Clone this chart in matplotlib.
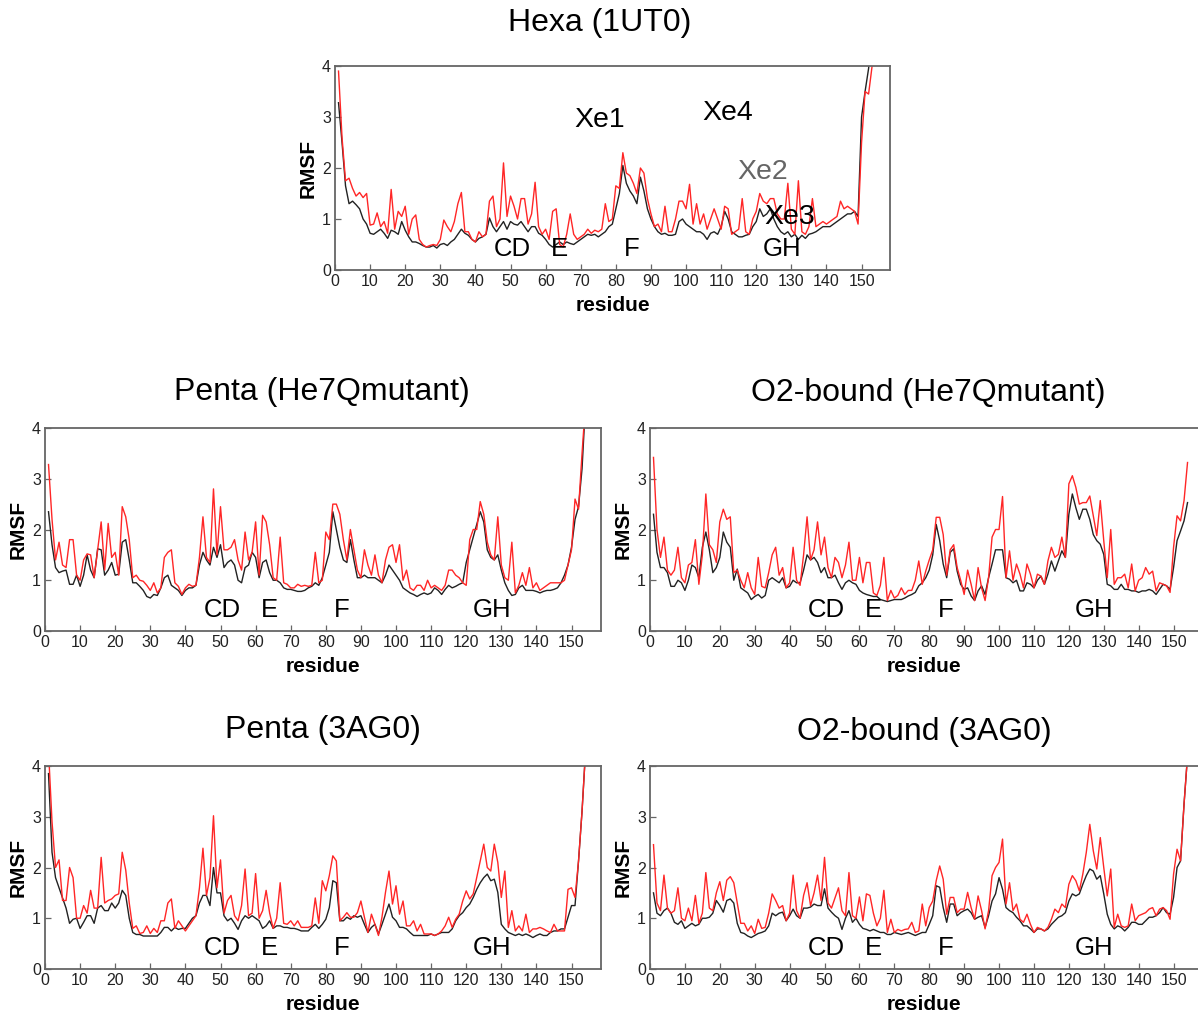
import numpy as np
import matplotlib.pyplot as plt

plt.rcParams['font.family'] = ['Liberation Sans', 'DejaVu Sans']

# RMSF per residue, red = grey-dark line pairs
hexa_red = [3.9, 2.6, 1.75, 1.8, 1.6, 1.45, 1.52, 1.42, 1.5, 0.88,
            0.9, 1.12, 0.85, 0.95, 0.72, 1.58, 0.8, 1.15, 1.05, 1.25,
            0.7, 1.0, 1.08, 0.6, 0.5, 0.45, 0.48, 0.5, 0.48, 0.6,
            0.98, 0.85, 0.75, 0.95, 1.3, 1.52, 0.75, 0.75, 0.6, 0.55,
            0.75, 0.65, 0.7, 1.35, 1.45, 0.85, 1.0, 2.1, 1.05, 1.45,
            1.25, 1.0, 1.4, 1.4, 0.9, 1.1, 1.72, 0.85, 0.7, 0.8,
            0.6, 1.15, 1.2, 0.5, 0.45, 0.7, 1.1, 0.7, 0.6, 0.65,
            0.7, 0.8, 0.72, 0.78, 0.75, 0.8, 1.3, 0.95, 1.0, 1.65,
            1.6, 2.3, 1.9, 1.85, 1.7, 1.5, 2.0, 1.9, 1.4, 1.1,
            0.85, 0.9, 0.75, 1.25, 0.75, 0.75, 1.0, 1.35, 1.35, 1.2,
            1.68, 0.9, 1.3, 0.9, 1.1, 0.8, 1.0, 1.2, 1.0, 0.8,
            1.25, 1.2, 0.7, 0.75, 0.8, 1.4, 0.75, 0.7, 1.0, 1.15,
            1.5, 1.35, 1.3, 1.4, 1.4, 1.1, 1.0, 1.0, 1.7, 0.8,
            0.7, 1.75, 0.75, 0.7, 0.85, 1.4, 0.85, 0.9, 0.95, 0.9,
            0.95, 1.0, 1.05, 1.35, 1.2, 1.25, 1.2, 1.15, 0.9, 2.5,
            3.5, 3.45, 4.0, 4.8]
hexa_blk = [3.28, 2.5, 1.65, 1.3, 1.35, 1.28, 1.2, 1.0, 0.9, 0.72,
            0.7, 0.75, 0.8, 0.72, 0.62, 0.78, 0.75, 0.7, 0.95, 0.78,
            0.65, 0.55, 0.55, 0.52, 0.48, 0.45, 0.45, 0.48, 0.43, 0.5,
            0.52, 0.48, 0.55, 0.6, 0.7, 0.8, 0.72, 0.68, 0.6, 0.55,
            0.62, 0.65, 0.7, 1.02, 0.85, 0.75, 0.85, 0.95, 0.8, 0.95,
            0.9, 0.88, 0.95, 0.85, 0.75, 0.85, 0.85, 0.72, 0.68, 0.6,
            0.5, 0.45, 0.5, 0.55, 0.5, 0.55, 0.52, 0.5, 0.55, 0.6,
            0.65, 0.7, 0.68, 0.7, 0.65, 0.7, 0.75, 0.85, 0.9, 1.2,
            1.5, 2.05, 1.7, 1.55, 1.45, 1.3, 1.82, 1.55, 1.2, 1.0,
            0.85, 0.75, 0.7, 0.72, 0.68, 0.68, 0.7, 0.95, 1.0, 0.9,
            0.85, 0.8, 0.75, 0.75, 0.7, 0.6, 0.72, 0.75, 0.7, 0.85,
            1.15, 1.0, 0.75, 0.7, 0.65, 0.65, 0.68, 0.7, 0.85, 0.95,
            1.2, 1.05, 1.1, 1.2, 1.0, 0.85, 0.75, 0.7, 0.75, 0.65,
            0.7, 0.6, 0.68, 0.62, 0.7, 0.72, 0.75, 0.8, 0.85, 0.85,
            0.85, 0.9, 0.95, 1.0, 1.05, 1.1, 1.1, 1.15, 1.05, 3.0,
            3.5, 3.95, 4.6]

pm_red = [3.28, 2.2, 1.4, 1.75, 1.3, 1.25, 1.8, 1.8, 1.1, 1.0,
          1.4, 1.52, 1.5, 1.05, 1.6, 2.15, 1.2, 2.12, 1.45, 1.55,
          1.1, 2.45, 2.25, 1.8, 1.05, 1.1, 1.0, 0.98, 0.9, 0.8,
          0.95, 0.75, 0.85, 1.45, 1.55, 1.6, 0.95, 0.88, 0.72, 0.85,
          0.92, 0.88, 0.9, 1.45, 2.25, 1.45, 1.35, 2.8, 1.5, 2.45,
          1.6, 1.6, 1.65, 1.8, 1.4, 1.2, 1.95, 1.4, 1.55, 2.15,
          1.1, 2.28, 2.15, 1.7, 1.05, 1.0, 1.85, 0.95, 0.92, 0.85,
          0.85, 0.92, 0.88, 0.9, 0.88, 0.9, 1.55, 0.95, 1.0, 1.95,
          1.8, 2.5, 2.5, 2.3, 1.8, 1.4, 2.0, 1.6, 1.2, 1.05,
          1.6, 1.3, 1.1, 1.5, 1.1, 0.95, 1.4, 1.65, 1.7, 1.35,
          1.7, 1.0, 1.2, 0.85, 0.8, 0.9, 0.9, 0.8, 1.0, 0.85,
          0.9, 0.85, 0.8, 0.9, 1.2, 1.2, 1.1, 1.05, 0.95, 0.9,
          1.8, 2.0, 2.0, 2.55, 2.3, 1.75, 1.5, 1.4, 2.25, 1.3,
          1.05, 1.0, 1.75, 0.75, 0.9, 1.15, 0.9, 1.25, 0.85, 0.95,
          0.8, 0.85, 0.9, 0.95, 0.95, 0.95, 0.95, 1.0, 1.3, 1.6,
          2.6, 2.4, 3.5, 4.5]
pm_blk = [2.35, 1.7, 1.25, 1.15, 1.18, 1.2, 0.92, 0.92, 1.1, 0.88,
          1.1, 1.5, 1.2, 1.05, 1.62, 1.6, 1.1, 1.2, 1.35, 1.1,
          1.12, 1.75, 1.8, 1.4, 0.95, 0.95, 0.88, 0.8, 0.68, 0.65,
          0.72, 0.7, 0.85, 1.05, 1.1, 0.9, 0.85, 0.8, 0.7, 0.8,
          0.85, 0.85, 0.9, 1.3, 1.55, 1.4, 1.3, 1.65, 1.45, 1.7,
          1.25, 1.35, 1.4, 1.3, 1.0, 0.95, 1.25, 1.3, 1.55, 1.45,
          1.05, 1.35, 1.4, 1.15, 1.0, 1.0, 0.95, 0.85, 0.82, 0.82,
          0.8, 0.78, 0.78, 0.8, 0.85, 0.88, 0.95, 0.9, 1.05, 1.3,
          1.55, 2.35, 2.0, 1.65, 1.4, 1.35, 1.8, 1.4, 1.05, 1.05,
          1.1, 1.05, 1.05, 1.05, 1.0, 0.95, 1.1, 1.3, 1.2, 1.1,
          1.0, 0.85, 0.8, 0.75, 0.72, 0.68, 0.72, 0.75, 0.72, 0.75,
          0.85, 0.8, 0.72, 0.82, 0.9, 0.85, 0.88, 0.92, 0.95, 1.35,
          1.6, 1.85, 2.1, 2.35, 2.15, 1.6, 1.45, 1.4, 1.5, 1.2,
          0.95, 0.8, 0.7, 0.72, 0.85, 0.9, 0.8, 0.8, 0.8, 0.78,
          0.75, 0.78, 0.8, 0.8, 0.82, 0.85, 0.95, 1.1, 1.3, 1.65,
          2.2, 2.45, 3.2, 4.5]

om_red = [3.42, 2.0, 1.45, 1.85, 1.2, 1.1, 1.2, 1.65, 1.05, 0.95,
          1.3, 1.35, 1.8, 0.92, 1.5, 2.7, 1.7, 1.6, 1.35, 2.15,
          2.4, 2.2, 2.25, 1.15, 1.2, 1.0, 0.85, 1.15, 0.85, 0.72,
          1.45, 0.88, 0.85, 1.15, 1.5, 1.65, 1.1, 1.25, 0.85, 0.95,
          1.65, 1.0, 0.9, 1.5, 2.25, 1.4, 1.6, 2.15, 1.5, 1.85,
          1.25, 1.05, 1.45, 1.35, 1.05, 1.3, 1.75, 1.0, 1.0, 1.45,
          0.95, 1.35, 1.35, 0.75, 0.7, 0.9, 1.45, 0.6, 0.8, 0.65,
          0.7, 0.85, 0.72, 0.8, 0.8, 1.0, 1.38, 0.92, 1.18, 1.4,
          1.6, 2.24, 2.24, 1.9, 1.1, 1.6, 1.7, 1.25, 1.0, 0.72,
          1.2, 0.92, 0.6, 1.25, 0.85, 0.6, 1.05, 1.85, 2.0, 2.0,
          2.65, 1.05, 1.58, 1.0, 1.32, 1.12, 0.85, 1.32, 1.12, 0.85,
          1.12, 1.08, 0.92, 1.38, 1.65, 1.45, 1.51, 1.85, 1.45, 2.9,
          3.06, 2.83, 2.5, 2.53, 2.53, 2.66, 2.27, 1.88, 2.57, 1.78,
          1.05, 2.0, 0.92, 1.05, 1.05, 1.12, 0.85, 1.32, 0.79, 1.0,
          1.05, 1.25, 1.12, 1.18, 0.79, 0.95, 0.92, 0.89, 0.76, 1.65,
          2.27, 2.17, 2.57, 3.32]
om_blk = [2.3, 1.55, 1.25, 1.25, 1.15, 0.88, 0.88, 1.0, 0.95, 0.8,
          1.0, 1.3, 1.25, 1.05, 1.65, 1.95, 1.6, 1.15, 1.25, 1.45,
          1.95, 1.75, 1.65, 1.0, 1.22, 0.85, 0.8, 0.75, 0.62, 0.68,
          0.72, 0.65, 0.7, 1.0, 1.05, 1.0, 0.95, 1.05, 0.85, 0.88,
          1.0, 0.95, 0.95, 1.2, 1.5, 1.4, 1.45, 1.35, 1.15, 1.25,
          1.05, 1.05, 1.1, 0.95, 0.82, 0.95, 1.0, 0.95, 0.92, 0.8,
          0.75, 0.72, 0.7, 0.68, 0.68, 0.62, 0.6, 0.58, 0.6, 0.62,
          0.62, 0.62, 0.65, 0.69, 0.72, 0.76, 0.89, 0.95, 1.05, 1.2,
          1.5, 2.1, 1.78, 1.32, 1.05, 1.55, 1.62, 1.18, 0.92, 0.82,
          0.85, 0.69, 0.6, 0.79, 0.89, 0.72, 1.05, 1.32, 1.6, 1.6,
          1.6, 1.05, 1.02, 0.95, 1.0, 0.79, 0.79, 0.95, 0.92, 0.85,
          1.0, 1.08, 0.92, 1.12, 1.38, 1.18, 1.38, 1.58, 1.45, 2.3,
          2.7, 2.43, 2.2, 2.4, 2.4, 2.2, 1.9, 1.78, 1.71, 1.51,
          0.92, 0.89, 0.82, 0.82, 0.92, 0.82, 0.82, 0.79, 0.79, 0.76,
          0.79, 0.79, 0.82, 0.79, 0.72, 0.82, 0.92, 0.89, 0.82, 1.25,
          1.78, 1.97, 2.17, 2.53]

p3_red = [4.3, 2.9, 2.0, 2.15, 1.35, 1.35, 2.0, 1.8, 1.0, 1.0,
          1.25, 1.1, 1.55, 1.2, 1.2, 2.2, 1.3, 1.35, 1.38, 1.45,
          1.48, 2.3, 1.95, 1.3, 0.8, 0.85, 0.7, 0.72, 0.85, 0.7,
          0.8, 0.72, 0.95, 0.95, 1.3, 1.38, 0.8, 0.95, 0.85, 0.75,
          0.85, 0.95, 1.05, 1.6, 2.38, 1.45, 1.8, 3.02, 1.6, 2.15,
          1.1, 1.35, 1.45, 1.05, 0.95, 1.25, 1.97, 1.05, 1.1, 1.88,
          1.0, 1.15, 1.55, 1.1, 0.8, 1.0, 1.7, 0.9, 0.88, 0.95,
          0.85, 0.95, 0.82, 0.82, 0.82, 0.85, 1.4, 0.9, 1.74, 1.54,
          1.84, 2.23, 2.13, 0.95, 1.02, 1.11, 1.02, 1.02, 1.11, 1.34,
          1.02, 0.72, 1.08, 0.88, 0.66, 1.02, 1.51, 1.93, 1.28, 1.64,
          1.08, 1.34, 0.85, 0.85, 0.95, 0.75, 0.88, 0.69, 0.69, 0.69,
          0.66, 0.69, 0.75, 0.85, 1.02, 0.82, 0.98, 1.08, 1.34, 1.54,
          1.38, 1.48, 1.8, 2.13, 2.46, 2.0, 1.93, 2.46, 2.1, 1.41,
          1.93, 0.82, 1.15, 0.75, 0.85, 0.75, 1.08, 0.72, 0.79, 0.79,
          0.82, 0.79, 0.75, 0.72, 0.88, 0.75, 0.75, 0.75, 1.57, 1.6,
          1.41, 2.13, 3.11, 4.3]
p3_blk = [3.85, 2.3, 1.8, 1.6, 1.4, 1.2, 0.9, 0.98, 1.0, 0.8,
          0.92, 1.05, 1.05, 0.9, 1.2, 1.25, 1.15, 1.15, 1.3, 1.2,
          1.3, 1.55, 1.45, 1.0, 0.72, 0.68, 0.68, 0.65, 0.65, 0.65,
          0.65, 0.65, 0.72, 0.82, 0.82, 0.75, 0.82, 0.78, 0.8, 0.8,
          0.9, 1.0, 1.05, 1.3, 1.45, 1.45, 1.25, 2.0, 1.5, 1.5,
          1.05, 0.95, 1.0, 0.9, 0.78, 0.95, 1.05, 1.0, 1.05, 1.0,
          0.95, 0.8, 0.85, 0.95, 0.8, 0.85, 0.85, 0.82, 0.82, 0.8,
          0.8, 0.78, 0.75, 0.75, 0.75, 0.82, 0.88, 0.8, 0.88, 0.98,
          1.21, 1.74, 1.7, 0.95, 0.95, 1.02, 0.98, 1.05, 1.02, 1.05,
          0.88, 0.72, 0.82, 0.88, 0.69, 0.88, 1.08, 1.28, 1.02, 0.95,
          0.82, 0.82, 0.79, 0.72, 0.66, 0.66, 0.66, 0.66, 0.66, 0.69,
          0.66, 0.69, 0.72, 0.72, 0.72, 0.79, 0.95, 1.05, 1.11, 1.21,
          1.28, 1.41, 1.57, 1.7, 1.8, 1.87, 1.74, 1.77, 1.51, 0.88,
          0.79, 0.72, 0.69, 0.66, 0.69, 0.66, 0.69, 0.66, 0.62, 0.66,
          0.69, 0.66, 0.66, 0.72, 0.75, 0.75, 0.79, 0.79, 1.02, 1.25,
          1.25, 2.13, 3.11, 4.3]

o3_red = [2.45, 1.3, 1.15, 1.85, 1.2, 1.1, 1.15, 1.6, 1.0, 0.95,
          1.2, 0.95, 1.45, 0.9, 1.1, 1.9, 1.2, 1.15, 1.5, 1.72,
          1.35, 1.75, 1.82, 1.7, 1.3, 0.9, 0.9, 0.75, 0.85, 0.7,
          0.98, 0.8, 0.82, 1.1, 1.48, 1.35, 1.2, 1.25, 0.95, 1.1,
          1.85, 1.15, 1.0, 1.45, 1.7, 1.25, 1.5, 1.85, 1.35, 2.2,
          1.3, 1.2, 1.4, 1.6, 1.15, 1.05, 1.9, 1.05, 1.0, 1.42,
          0.95, 1.48, 1.45, 1.1, 0.85, 1.0, 1.55, 0.72, 0.98, 0.72,
          0.78, 0.75, 0.78, 0.79, 0.92, 0.72, 0.75, 1.28, 0.85, 1.21,
          1.34, 1.74, 2.03, 1.77, 1.08, 1.41, 1.41, 1.11, 1.18, 1.18,
          1.51, 1.21, 0.98, 1.44, 1.15, 0.79, 1.15, 1.84, 2.0, 2.1,
          2.56, 1.28, 1.7, 1.15, 1.28, 0.98, 0.92, 1.08, 0.88, 0.72,
          0.82, 0.79, 0.75, 0.82, 0.98, 1.18, 1.11, 1.28, 1.21, 1.67,
          1.84, 1.74, 1.54, 1.87, 2.3, 2.85, 2.33, 1.97, 2.59, 2.0,
          1.44, 1.97, 0.82, 1.08, 0.85, 0.82, 0.85, 1.28, 0.95, 1.05,
          1.08, 1.11, 1.18, 1.21, 1.05, 1.18, 1.21, 1.15, 0.98, 1.87,
          2.36, 2.13, 3.25, 4.2]
o3_blk = [1.5, 1.1, 1.05, 1.15, 1.2, 1.1, 0.92, 0.88, 0.95, 0.8,
          0.85, 0.9, 0.85, 0.88, 1.0, 1.0, 1.02, 1.1, 1.35, 1.25,
          1.12, 1.35, 1.38, 1.3, 0.9, 0.72, 0.7, 0.65, 0.62, 0.66,
          0.7, 0.72, 0.75, 0.85, 1.1, 1.05, 1.1, 1.12, 0.95, 1.05,
          1.18, 1.05, 1.0, 1.2, 1.2, 1.22, 1.28, 1.25, 1.25, 1.58,
          1.2, 1.12, 1.05, 1.0, 0.78, 1.0, 1.15, 0.92, 1.0, 0.88,
          0.8, 0.78, 0.75, 0.78, 0.75, 0.72, 0.72, 0.68, 0.68, 0.72,
          0.7, 0.68, 0.7, 0.72, 0.69, 0.66, 0.69, 0.72, 0.72, 0.88,
          1.05, 1.64, 1.61, 1.21, 0.92, 1.28, 1.28, 1.05, 1.11, 1.15,
          1.18, 1.11, 0.98, 1.02, 1.05, 0.82, 1.05, 1.34, 1.48, 1.8,
          1.57, 1.21, 1.15, 1.11, 1.02, 0.95, 0.85, 0.85, 0.79, 0.72,
          0.79, 0.79, 0.75, 0.79, 0.88, 0.95, 1.02, 1.05, 1.11, 1.34,
          1.48, 1.44, 1.48, 1.67, 1.84, 1.97, 1.93, 1.77, 1.84, 1.48,
          1.08, 0.88, 0.79, 0.85, 0.82, 0.75, 0.82, 0.92, 0.92, 0.88,
          0.88, 0.95, 1.02, 1.02, 1.05, 1.11, 1.21, 1.11, 1.08, 1.41,
          2.0, 2.13, 3.25, 4.2]

W, H = 1198, 1016
fig = plt.figure(figsize=(W / 100, H / 100), dpi=100)


def box(l, t, r, b):
    return [l / W, 1 - b / H, (r - l) / W, (b - t) / H]


def panel(rect, xmax, red, blk, title, tpos, right_col=False):
    ax = fig.add_axes(rect)
    ax.plot(np.arange(1, len(blk) + 1), blk, color='#222222', lw=1.0)
    ax.plot(np.arange(1, len(red) + 1), red, color='#ff2626', lw=1.0)
    ax.set_xlim(0, xmax)
    ax.set_ylim(0, 4)
    ax.set_xticks(np.arange(0, 151, 10))
    ax.set_yticks([0, 1, 2, 3, 4])
    ax.tick_params(labelsize=11.5, length=4, width=0.9, color='#666666',
                   direction='in', labelcolor='#222222', pad=3)
    for s in ax.spines.values():
        s.set_color('#666666')
        s.set_linewidth(1.3)
    if right_col:
        ax.spines['right'].set_visible(False)
    ax.set_xlabel('residue', fontsize=15, fontweight='bold', labelpad=5)
    ax.set_ylabel('RMSF', fontsize=15, fontweight='bold', labelpad=3)
    for lab, xp in [('CD', 50.4), ('E', 64), ('F', 84.6), ('GH', 127.3)]:
        ax.text(xp, 0.42, lab, fontsize=18.5, ha='center', va='center')
    fig.text(tpos[0] / W, 1 - tpos[1] / H, title, fontsize=23,
             ha='center', va='center')
    return ax


top = panel(box(335, 66, 890, 270), 158.1, hexa_red, hexa_blk,
            'Hexa (1UT0)', (600, 23))
for lab, xp, yp, col in [('Xe1', 75.5, 2.94, 'black'), ('Xe4', 112, 3.08, 'black'),
                         ('Xe2', 121.7, 1.92, '#666666'), ('Xe3', 129.6, 1.04, 'black')]:
    top.text(xp, yp, lab, fontsize=20.5, ha='center', va='center', color=col)

panel(box(45, 428, 601, 631), 158.4, pm_red, pm_blk,
      'Penta (He7Qmutant)', (322, 392))
panel(box(650, 428, 1198, 631), 157.0, om_red, om_blk,
      'O2-bound (He7Qmutant)', (928, 393), right_col=True)
panel(box(45, 766, 601, 969), 158.4, p3_red, p3_blk,
      'Penta (3AG0)', (323, 730))
panel(box(650, 766, 1198, 969), 157.0, o3_red, o3_blk,
      'O2-bound (3AG0)', (924, 732), right_col=True)

fig.savefig('out.png', dpi=100)
